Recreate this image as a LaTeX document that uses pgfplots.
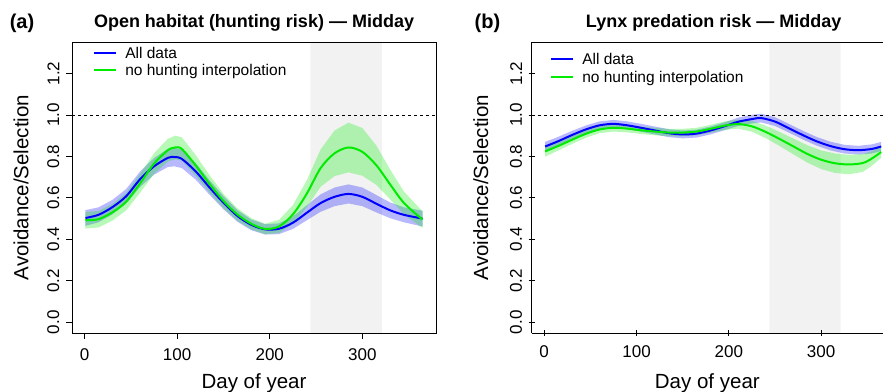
\documentclass[border=0pt]{standalone}
\usepackage{pgfplots}
\pgfplotsset{compat=1.18}
\usepackage{pgfplotstable}
\usepgfplotslibrary{fillbetween}
\usepackage{fontspec}
\setmainfont{Liberation Sans}

\definecolor{cblue}{RGB}{0,0,255}
\definecolor{cgreen}{RGB}{0,235,0}
\definecolor{shade}{RGB}{242,242,242}

% Panel (a): open habitat
\pgfplotstableread{
d m lo hi
1 0.503 0.465 0.541
15 0.518 0.482 0.554
30 0.555 0.520 0.590
45 0.608 0.573 0.643
60 0.690 0.653 0.727
75 0.752 0.712 0.792
90 0.793 0.749 0.837
97 0.797 0.752 0.842
105 0.788 0.744 0.832
120 0.728 0.688 0.768
135 0.650 0.615 0.685
150 0.577 0.545 0.609
165 0.513 0.485 0.541
180 0.470 0.444 0.496
195 0.448 0.423 0.473
210 0.451 0.425 0.477
225 0.480 0.450 0.510
240 0.528 0.492 0.564
255 0.575 0.533 0.617
270 0.605 0.560 0.650
285 0.619 0.573 0.665
300 0.605 0.560 0.650
315 0.572 0.530 0.614
330 0.540 0.502 0.578
345 0.518 0.482 0.554
365 0.500 0.462 0.538
}\aBlue
\pgfplotstableread{
d m lo hi
1 0.492 0.452 0.532
15 0.497 0.457 0.537
30 0.530 0.490 0.570
45 0.582 0.540 0.624
60 0.670 0.625 0.715
75 0.765 0.715 0.815
90 0.830 0.775 0.885
98 0.843 0.786 0.900
105 0.836 0.780 0.892
120 0.757 0.707 0.807
135 0.667 0.625 0.709
150 0.585 0.550 0.620
165 0.520 0.490 0.550
180 0.475 0.448 0.502
195 0.450 0.425 0.475
210 0.462 0.430 0.494
225 0.520 0.475 0.565
240 0.620 0.555 0.685
255 0.744 0.654 0.834
270 0.815 0.705 0.925
285 0.843 0.723 0.963
300 0.822 0.707 0.937
315 0.758 0.663 0.853
330 0.665 0.593 0.737
345 0.575 0.520 0.630
365 0.495 0.455 0.535
}\aGreen
% Panel (b): lynx predation risk
\pgfplotstableread{
d m lo hi
1 0.848 0.826 0.870
15 0.873 0.852 0.894
30 0.903 0.883 0.923
45 0.930 0.911 0.949
60 0.950 0.931 0.969
75 0.957 0.938 0.976
90 0.950 0.931 0.969
105 0.938 0.919 0.957
120 0.925 0.906 0.944
135 0.912 0.893 0.931
150 0.906 0.887 0.925
165 0.910 0.891 0.929
180 0.925 0.906 0.944
195 0.945 0.926 0.964
210 0.967 0.947 0.987
225 0.980 0.959 1.001
235 0.985 0.964 1.006
250 0.968 0.947 0.989
265 0.936 0.915 0.957
280 0.903 0.882 0.924
295 0.873 0.852 0.894
310 0.850 0.829 0.871
325 0.835 0.814 0.856
340 0.830 0.809 0.851
355 0.836 0.814 0.858
365 0.848 0.826 0.870
}\bBlue
\pgfplotstableread{
d m lo hi
1 0.824 0.799 0.849
15 0.850 0.828 0.872
30 0.880 0.860 0.900
45 0.909 0.890 0.928
60 0.930 0.912 0.948
75 0.938 0.920 0.956
90 0.934 0.916 0.952
105 0.926 0.908 0.944
120 0.920 0.902 0.938
135 0.915 0.897 0.933
150 0.915 0.897 0.933
165 0.920 0.902 0.938
180 0.933 0.914 0.952
195 0.948 0.928 0.968
210 0.956 0.934 0.978
225 0.945 0.919 0.971
240 0.918 0.888 0.948
255 0.884 0.850 0.918
270 0.848 0.810 0.886
285 0.812 0.770 0.854
300 0.784 0.739 0.829
315 0.767 0.720 0.814
330 0.761 0.714 0.808
345 0.768 0.725 0.811
355 0.790 0.755 0.825
365 0.821 0.793 0.849
}\bGreen

\pgfplotsset{
  myax/.style={
    set layers,
    scale only axis, height=291bp,
    xmin=-13.56, ymin=-0.052, ymax=1.352,
    xtick={0,100,200,300},
    ytick={0,0.2,0.4,0.6,0.8,1.0,1.2},
    yticklabels={0.0,0.2,0.4,0.6,0.8,1.0,1.2},
    tick align=outside, major tick length=6bp,
    xtick pos=bottom, ytick pos=left,
    tick style={black, line width=0.8bp},
    axis line style={line width=0.8bp},
    /pgf/number format/assume math mode=true,
    every tick label/.append style={font=\fontsize{17bp}{17bp}\selectfont},
    yticklabel style={rotate=90, anchor=south, inner sep=0pt},
    yticklabel shift=6.5bp,
    xticklabel style={anchor=north, inner sep=0pt},
    xticklabel shift=9bp,
    xlabel={Day of year}, ylabel={Avoidance/Selection},
    label style={font=\fontsize{20.5bp}{20.5bp}\selectfont},
    xlabel style={at={(axis description cs:0.5,0)}, anchor=base, yshift=-55bp, inner sep=0pt},
    ylabel style={anchor=base, inner sep=0pt},
    title style={anchor=base, yshift=8.7bp, inner sep=0pt,
      font=\bfseries\fontsize{18bp}{18bp}\selectfont},
    legend cell align=left,
    legend image code/.code={\draw[#1] (0bp,5.5bp) -- (22bp,5.5bp);},
    legend style={draw=none, fill=none, inner sep=0pt, outer sep=0pt,
      font=\fontsize{15.5bp}{15.5bp}\selectfont, row sep=4.5bp,
      nodes={inner sep=0pt, anchor=base west}, column sep=8bp},
    clip=true,
  },
  band/.style={draw=none, forget plot},
  shadebox/.style={fill=shade, draw=none, forget plot, on layer=axis background},
}

\begin{document}
\begin{tikzpicture}
% ---------------- Panel (a)
\begin{axis}[myax, name=pa, at={(72bp,59bp)}, anchor=south west, width=364bp, xmax=379.56,
  title={Open habitat (hunting risk) — Midday},
  title style={at={(axis description cs:0.5,1)}},
  ylabel style={at={(axis description cs:-0.120,0.5)}},
  legend style={at={(axis description cs:0.0585,0.983)}, anchor=north west}]
\addplot[shadebox] coordinates {(244,-0.052) (321,-0.052) (321,1.352) (244,1.352) (244,-0.052)};
\addplot[black, line width=0.7bp, dash pattern=on 3bp off 3bp, forget plot] coordinates {(-20,1) (400,1)};
\addplot[band, name path=abh] table[x=d, y=hi] {\aBlue};
\addplot[band, name path=abl] table[x=d, y=lo] {\aBlue};
\addplot[cblue, fill opacity=0.28, forget plot] fill between[of=abh and abl];
\addplot[band, name path=agh] table[x=d, y=hi] {\aGreen};
\addplot[band, name path=agl] table[x=d, y=lo] {\aGreen};
\addplot[cgreen, fill opacity=0.28, forget plot] fill between[of=agh and agl];
\addplot[cblue, line width=2bp, smooth] table[x=d, y=m] {\aBlue};
\addlegendentry{All data}
\addplot[cgreen, line width=2bp, smooth] table[x=d, y=m] {\aGreen};
\addlegendentry{no hunting interpolation}
\end{axis}
\node[font=\bfseries\fontsize{20bp}{20bp}\selectfont, anchor=base, inner sep=0pt]
  at ([xshift=-50bp, yshift=13bp]pa.north west) {(a)};
% ---------------- Panel (b), cut at the right edge as in the reference
\begin{axis}[myax, name=pb, at={(531.7bp,59bp)}, anchor=south west, width=351.3bp, xmax=367.0,
  axis lines=left, axis line style={-, line width=0.8bp},
  title={Lynx predation risk — Midday},
  title style={at={(axis description cs:0.5178,1)}},
  ylabel style={at={(axis description cs:-0.1243,0.5)}},
  legend style={at={(axis description cs:0.053,0.960)}, anchor=north west}]
\addplot[shadebox] coordinates {(244,-0.052) (321,-0.052) (321,1.352) (244,1.352) (244,-0.052)};
\addplot[black, line width=0.7bp, dash pattern=on 3bp off 3bp, forget plot] coordinates {(-20,1) (400,1)};
\addplot[band, name path=bbh] table[x=d, y=hi] {\bBlue};
\addplot[band, name path=bbl] table[x=d, y=lo] {\bBlue};
\addplot[cblue, fill opacity=0.28, forget plot] fill between[of=bbh and bbl];
\addplot[band, name path=bgh] table[x=d, y=hi] {\bGreen};
\addplot[band, name path=bgl] table[x=d, y=lo] {\bGreen};
\addplot[cgreen, fill opacity=0.28, forget plot] fill between[of=bgh and bgl];
\addplot[cblue, line width=2bp, smooth] table[x=d, y=m] {\bBlue};
\addlegendentry{All data}
\addplot[cgreen, line width=2bp, smooth] table[x=d, y=m] {\bGreen};
\addlegendentry{no hunting interpolation}
\end{axis}
\draw[black, line width=0.8bp] (pb.north west) -- ([xshift=10bp]pb.north east);
\node[font=\bfseries\fontsize{20bp}{20bp}\selectfont, anchor=base, inner sep=0pt]
  at ([xshift=-44.2bp, yshift=13bp]pb.north west) {(b)};
\pgfresetboundingbox
\path[use as bounding box] (0,0) rectangle (883bp,392bp);
\end{tikzpicture}
\end{document}
